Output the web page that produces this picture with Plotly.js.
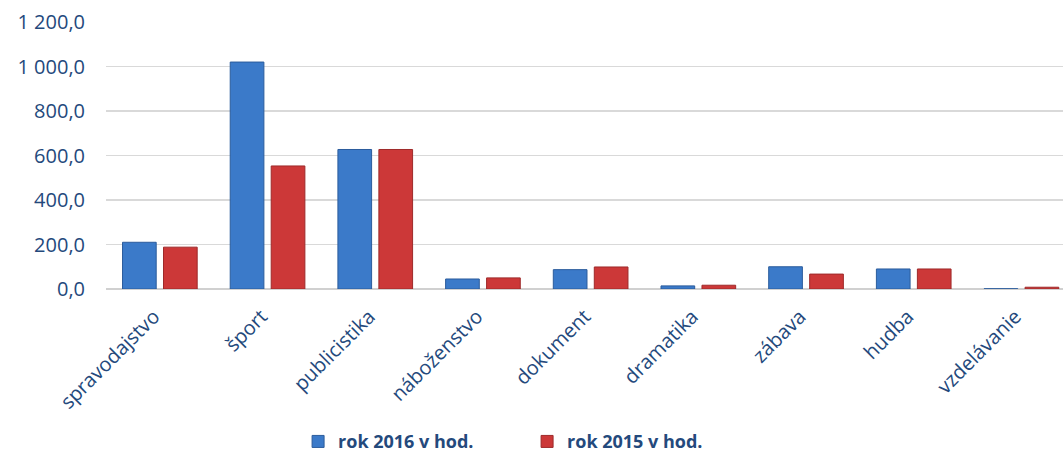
<!DOCTYPE html>
<html>
<head>
<meta charset="utf-8">
<script src="https://cdn.plot.ly/plotly-3.0.1.min.js"></script>
<style>
html,body{margin:0;padding:0;background:#fff;}
#chart{width:1063px;height:455px;}
</style>
</head>
<body>
<div id="chart"></div>
<script>
var categories = ["spravodajstvo", "šport", "publicistika", "náboženstvo", "dokument", "dramatika", "zábava", "hudba", "vzdelávanie"];
var values2016 = [210, 1020, 627, 45, 87, 14, 100, 90, 1];
var values2015 = [188, 553, 627, 50, 99, 17, 67, 90, 8];
var seriesNames = ["rok 2016 v hod.", "rok 2015 v hod."];
var yTicks = [0, 200, 400, 600, 800, 1000, 1200];

var textColor = "#24497c";

var traces = [
  {
    type: "bar",
    name: seriesNames[0],
    x: categories,
    y: values2016,
    marker: {color: "#3b7ac9", line: {color: "#2b5c9c", width: 1}},
    hoverinfo: "x+y"
  },
  {
    type: "bar",
    name: seriesNames[1],
    x: categories,
    y: values2015,
    marker: {color: "#cc3838", line: {color: "#9e2a2a", width: 1}},
    hoverinfo: "x+y"
  }
];

var layout = {
  width: 1063,
  height: 455,
  margin: {l: 106, r: 0, t: 22, b: 166, pad: 0, autoexpand: false},
  paper_bgcolor: "#ffffff",
  plot_bgcolor: "#ffffff",
  separators: ", ",
  barmode: "group",
  bargap: 0.239,
  bargroupgap: 0.178,
  font: {family: "Open Sans, sans-serif", color: textColor},
  xaxis: {
    type: "category",
    range: [-0.5, 8.386],
    tickangle: -45,
    tickfont: {size: 20, color: textColor, family: "Open Sans, sans-serif"},
    showgrid: false,
    showline: false,
    zeroline: false,
    ticks: "",
    ticklabelstandoff: 11,
    ticklabelshift: -6,
    automargin: false,
    fixedrange: true
  },
  yaxis: {
    range: [0, 1200],
    tickvals: yTicks,
    tickformat: ",.1f",
    tickfont: {size: 20, color: textColor, family: "Open Sans, sans-serif"},
    showgrid: true,
    gridcolor: "#d9d9d9",
    gridwidth: 1.8,
    zeroline: true,
    zerolinecolor: "#d0d0d0",
    zerolinewidth: 2.5,
    showline: false,
    ticks: "",
    ticklabelstandoff: 20,
    automargin: false,
    fixedrange: true
  },
  showlegend: true,
  legend: {
    orientation: "h",
    x: 0.44,
    xanchor: "center",
    y: -0.572,
    yanchor: "middle",
    font: {size: 18, color: textColor, family: "Open Sans, sans-serif", weight: "bold"},
    itemwidth: 30,
    entrywidth: 184,
    traceorder: "normal"
  }
};

Plotly.newPlot("chart", traces, layout, {displayModeBar: false, staticPlot: true});
</script>
</body>
</html>
